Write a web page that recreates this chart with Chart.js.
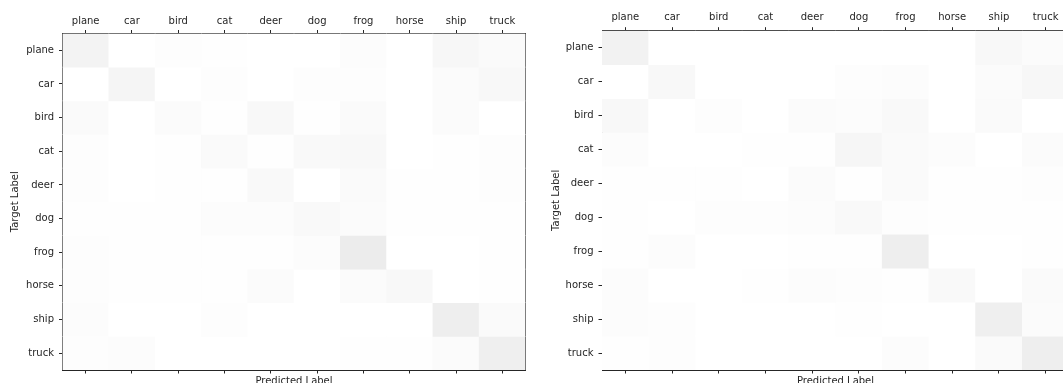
<!DOCTYPE html>
<html>
<head>
<meta charset="utf-8">
<script src="https://cdn.jsdelivr.net/npm/chart.js@4/dist/chart.umd.min.js"></script>
<style>
  html, body { margin: 0; padding: 0; background: #fff; overflow: hidden; width: 1063px; height: 383px; position: relative; }
  canvas { position: absolute; top: 0; }
  #cmLeft { left: 0; }
  #cmRight { left: 530px; }
</style>
</head>
<body>
<canvas id="cmLeft" width="530" height="400"></canvas>
<canvas id="cmRight" width="545" height="400"></canvas>
<script>
// Class names shared by both axes (rows = target, columns = predicted)
const categories = ['plane', 'car', 'bird', 'cat', 'deer', 'dog', 'frog', 'horse', 'ship', 'truck'];

// Confusion counts, first model
const confusionFirst = [
  [120,   0,  20,  10,   0,   0,  30,   0,  80,  50],
  [  0, 100,   0,  20,   0,  20,  20,   0,  40,  70],
  [ 50,   0,  40,  10,  70,  10,  55,   0,  40,   0],
  [ 20,   0,  10,  50,  10,  60,  70,   0,  10,  20],
  [ 20,   0,  10,  10,  60,   0,  50,  10,  10,  20],
  [ 10,  10,  10,  30,  30,  60,  40,  10,  10,  10],
  [ 20,  10,  10,  10,  10,  30, 190,   0,   0,  10],
  [ 20,  10,  10,  10,  40,   0,  40,  70,   0,  10],
  [ 30,   0,   0,  20,   0,   0,   0,   0, 170,  50],
  [ 20,  30,   0,   0,   0,   0,  10,  10,  40, 160]
];

// Confusion counts, second model
const confusionSecond = [
  [130,   0,   0,   0,   0,   0,   0,   0,  70,  40],
  [  0,  70,   0,   0,   0,  20,  30,   0,  40,  80],
  [ 70,   0,  20,   0,  40,  30,  60,   0,  50,   0],
  [ 30,   0,   0,  10,  10,  90,  50,  30,   0,  40],
  [ 10,  10,  10,   0,  40,  10,  50,  10,  10,  20],
  [ 10,   0,  20,  20,  30,  60,  20,  10,  10,  10],
  [ 10,  30,   0,   0,  10,  10, 170,   0,   0,  10],
  [ 30,   0,   0,  10,  30,  20,  10,  60,   0,  50],
  [ 30,  20,   0,   0,   0,  10,   0,   0, 160,  40],
  [ 10,  20,   0,   0,   0,   0,  30,   0,  50, 170]
];

// Upper end of the grey colour scale
const VMAX = 2550;

const INK = '#262626';
const FONT = { family: 'DejaVu Sans', size: 10, lineHeight: 1.2 };

function cellColor(v) {
  const l = Math.round(255 - Math.min(v, VMAX) / VMAX * 255);
  return `rgb(${l},${l},${l})`;
}

function tickGrid() {
  return { offset: false, drawOnChartArea: false, drawTicks: true, tickLength: 3.5, tickWidth: 1, tickColor: INK, color: INK, lineWidth: 1 };
}

function makeMatrix(canvasId, matrix, g) {
  const W = g.width, H = g.height;
  const datasets = matrix.map((row, r) => ({
    label: categories[r],
    data: row.map(() => [r, r + 1]),
    backgroundColor: row.map(cellColor),
    borderWidth: 0,
    borderSkipped: false,
    barPercentage: 1,
    categoryPercentage: 1,
    grouped: false,
    xAxisID: 'x',
    yAxisID: 'y'
  }));

  return new Chart(document.getElementById(canvasId), {
    type: 'bar',
    data: { labels: categories, datasets },
    options: {
      responsive: false,
      animation: false,
      events: [],
      layout: { padding: 0 },
      plugins: { legend: { display: false }, tooltip: { enabled: false }, title: { display: false } },
      scales: {
        x: {
          type: 'category',
          position: 'top',
          offset: true,
          grid: tickGrid(),
          border: { display: true, color: INK, width: 1 },
          ticks: { font: FONT, color: INK, padding: g.topPad, maxRotation: 0, autoSkip: false },
          afterFit: s => { s.height = g.top; }
        },
        xb: {
          type: 'category',
          position: 'bottom',
          offset: true,
          grid: tickGrid(),
          border: { display: true, color: INK, width: 1 },
          ticks: { display: false },
          title: { display: true, text: 'Predicted Label', font: FONT, color: INK, padding: { top: 0, bottom: g.xTitlePad } },
          afterFit: s => { s.height = H - g.bottom; }
        },
        y: {
          type: 'linear',
          position: 'left',
          reverse: true,
          min: 0,
          max: categories.length,
          afterBuildTicks: s => { s.ticks = categories.map((_, i) => ({ value: i + 0.5 })); },
          grid: tickGrid(),
          border: { display: true, color: INK, width: 1 },
          ticks: { font: FONT, color: INK, padding: 5, autoSkip: false, callback: (v, i) => categories[i] },
          title: { display: true, text: 'Target Label', font: FONT, color: INK, padding: { top: g.yTitlePad, bottom: 0 } },
          afterFit: s => { s.width = g.left; }
        },
        y2: {
          type: 'linear',
          position: 'right',
          min: 0,
          max: categories.length,
          grid: { display: false, drawTicks: false },
          border: { display: true, color: INK, width: 1 },
          ticks: { display: false },
          afterFit: s => { s.width = W - g.right; }
        }
      }
    }
  });
}

makeMatrix('cmLeft', confusionFirst, {
  width: 530, height: 400,
  left: 62.5, right: 525.5, top: 33.5, bottom: 370,
  topPad: 3, yTitlePad: 9, xTitlePad: 12.5
});

makeMatrix('cmRight', confusionSecond, {
  width: 545, height: 400,
  left: 72, right: 539, top: 30.7, bottom: 370,
  topPad: 4, yTitlePad: 20, xTitlePad: 12.5
});
</script>
</body>
</html>
